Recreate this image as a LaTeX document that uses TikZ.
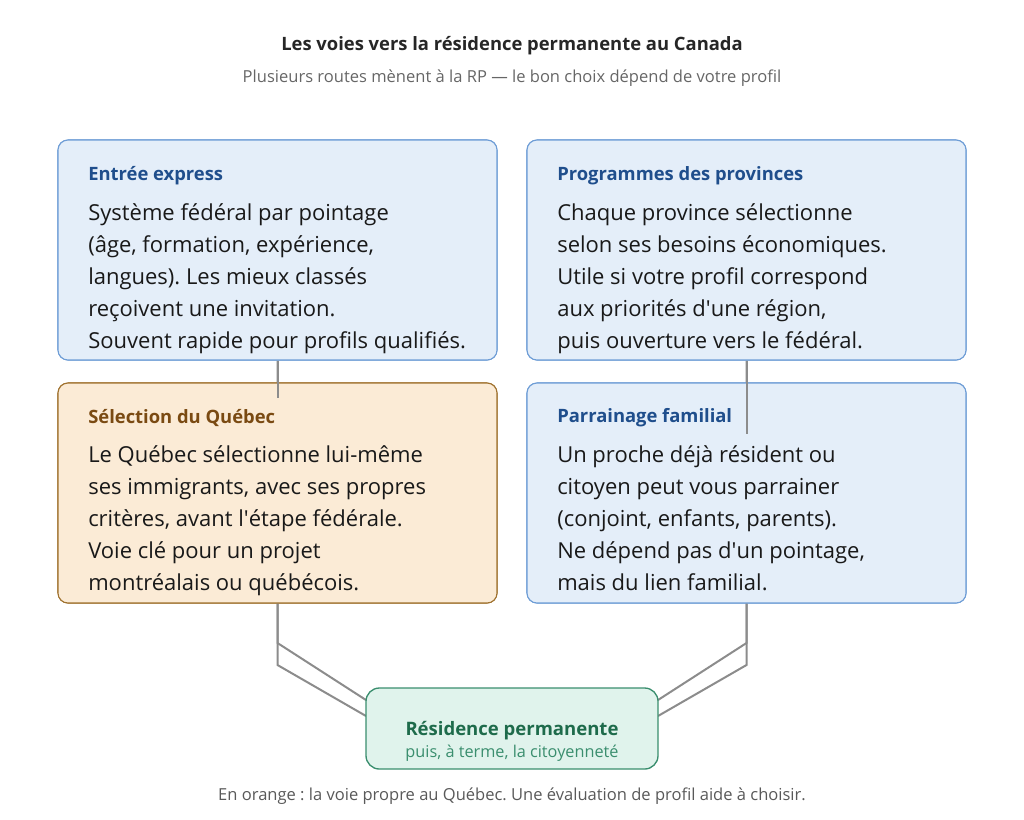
\documentclass[tikz,border=0pt]{standalone}
\usepackage{fontspec}
\setmainfont{Open Sans}
\usetikzlibrary{positioning}
\frenchspacing
\definecolor{bluefill}{HTML}{E4EEF9}
\definecolor{blueline}{HTML}{6E9DD6}
\definecolor{bluetext}{HTML}{1F4E8C}
\definecolor{orangefill}{HTML}{FBEBD6}
\definecolor{orangeline}{HTML}{A0722F}
\definecolor{orangetext}{HTML}{7A4A12}
\definecolor{greenfill}{HTML}{E0F3EC}
\definecolor{greenline}{HTML}{3A8E6E}
\definecolor{greentext}{HTML}{1E6B4B}
\definecolor{linkgray}{HTML}{8C8C8C}
\tikzset{pbox/.style={draw=blueline, fill=bluefill, rounded corners=7.5pt,
    minimum width=329.25pt, minimum height=165pt, line width=0.8pt}}
\tikzset{qbox/.style={pbox, draw=orangeline, fill=orangefill}}
\tikzset{rpbox/.style={draw=greenline, fill=greenfill, rounded corners=10pt,
    minimum width=219pt, minimum height=60.75pt, line width=1pt}}
\tikzset{head/.style={anchor=west, inner sep=0pt, font=\fontsize{13.8}{16}\selectfont\bfseries}}
\tikzset{body/.style={anchor=north west, inner sep=0pt, align=left, text=black!90,
    font=\fontsize{16.5}{24}\selectfont}}
\tikzset{link/.style={draw=linkgray, line width=1.5pt}}
\newcommand{\apos}{\textquotesingle}

\begin{document}
\begin{tikzpicture}[x=0.75pt, y=-0.75pt]
        \useasboundingbox (0,0) rectangle (1024,819);

        \node[font=\fontsize{13.8}{16}\selectfont\bfseries, text=black!85] (title) at (512,46)
            {Les voies vers la résidence permanente au Canada};
        \node[font=\fontsize{12.4}{15}\selectfont, text=black!60] (subtitle) at (512,78)
            {Plusieurs routes mènent à la RP — le bon choix dépend de votre profil};

        \coordinate (lbendA) at (277.5,643);
        \coordinate (lbendB) at (277.5,665);
        \coordinate (rbendA) at (746.5,643);
        \coordinate (rbendB) at (746.5,665);
        \coordinate (rpinA) at (366,700);
        \coordinate (rpinB) at (366,716);
        \coordinate (rpoutA) at (658,700);
        \coordinate (rpoutB) at (658,716);
        \coordinate (lstub) at (277.5,398);
        \coordinate (rstub) at (746.5,434);

        \node[pbox] (entree) at (277.5,250) {};
        \node[pbox] (prov) at (746.5,250) {};
        \node[qbox] (quebec) at (277.5,493) {};
        \node[pbox] (famille) at (746.5,493) {};

        \draw[link] (entree.south) -- (lbendA) -- (rpinA);
        \draw[link] (quebec.south) -- (lbendB) -- (rpinB);
        \draw[link] (prov.south) -- (rbendA) -- (rpoutA);
        \draw[link] (famille.south) -- (rbendB) -- (rpoutB);

        \node[pbox] (entree) at (277.5,250) {};
        \node[pbox] (prov) at (746.5,250) {};
        \node[qbox] (quebec) at (277.5,493) {};
        \node[pbox] (famille) at (746.5,493) {};
        \node[rpbox] (rp) at (512,728.5) {};

        \draw[link] (entree.south) -- (lstub);
        \draw[link] (prov.south) -- (rstub);

        \node[head, text=bluetext] (entreeT) at (88,176) {Entrée express};
        \node[body] (entreeB) at (88,203) {Système fédéral par pointage\\
            (âge, formation, expérience,\\ langues). Les mieux classés\\
            reçoivent une invitation.\\ Souvent rapide pour profils qualifiés.};

        \node[head, text=bluetext] (provT) at (557,176) {Programmes des provinces};
        \node[body] (provB) at (557,203) {Chaque province sélectionne\\
            selon ses besoins économiques.\\ Utile si votre profil correspond\\
            aux priorités d\apos une région,\\ puis ouverture vers le fédéral.};

        \node[head, text=orangetext] (quebecT) at (88,418) {Sélection du Québec};
        \node[body] (quebecB) at (88,445) {Le Québec sélectionne lui-même\\
            ses immigrants, avec ses propres\\ critères, avant l\apos étape fédérale.\\
            Voie clé pour un projet\\ montréalais ou québécois.};

        \node[head, text=bluetext] (familleT) at (557,418) {Parrainage familial};
        \node[body] (familleB) at (557,445) {Un proche déjà résident ou\\
            citoyen peut vous parrainer\\ (conjoint, enfants, parents).\\
            Ne dépend pas d\apos un pointage,\\ mais du lien familial.};

        \node[font=\fontsize{13.9}{16}\selectfont\bfseries, text=greentext] (rpT) at (512,731)
            {Résidence permanente};
        \node[font=\fontsize{12.2}{14}\selectfont, text=greenline] (rpS) at (512,753)
            {puis, à terme, la citoyenneté};

        \node[font=\fontsize{12.4}{15}\selectfont, text=black!65] (footer) at (512,796)
            {En orange : la voie propre au Québec. Une évaluation de profil aide à choisir.};
\end{tikzpicture}
\end{document}
